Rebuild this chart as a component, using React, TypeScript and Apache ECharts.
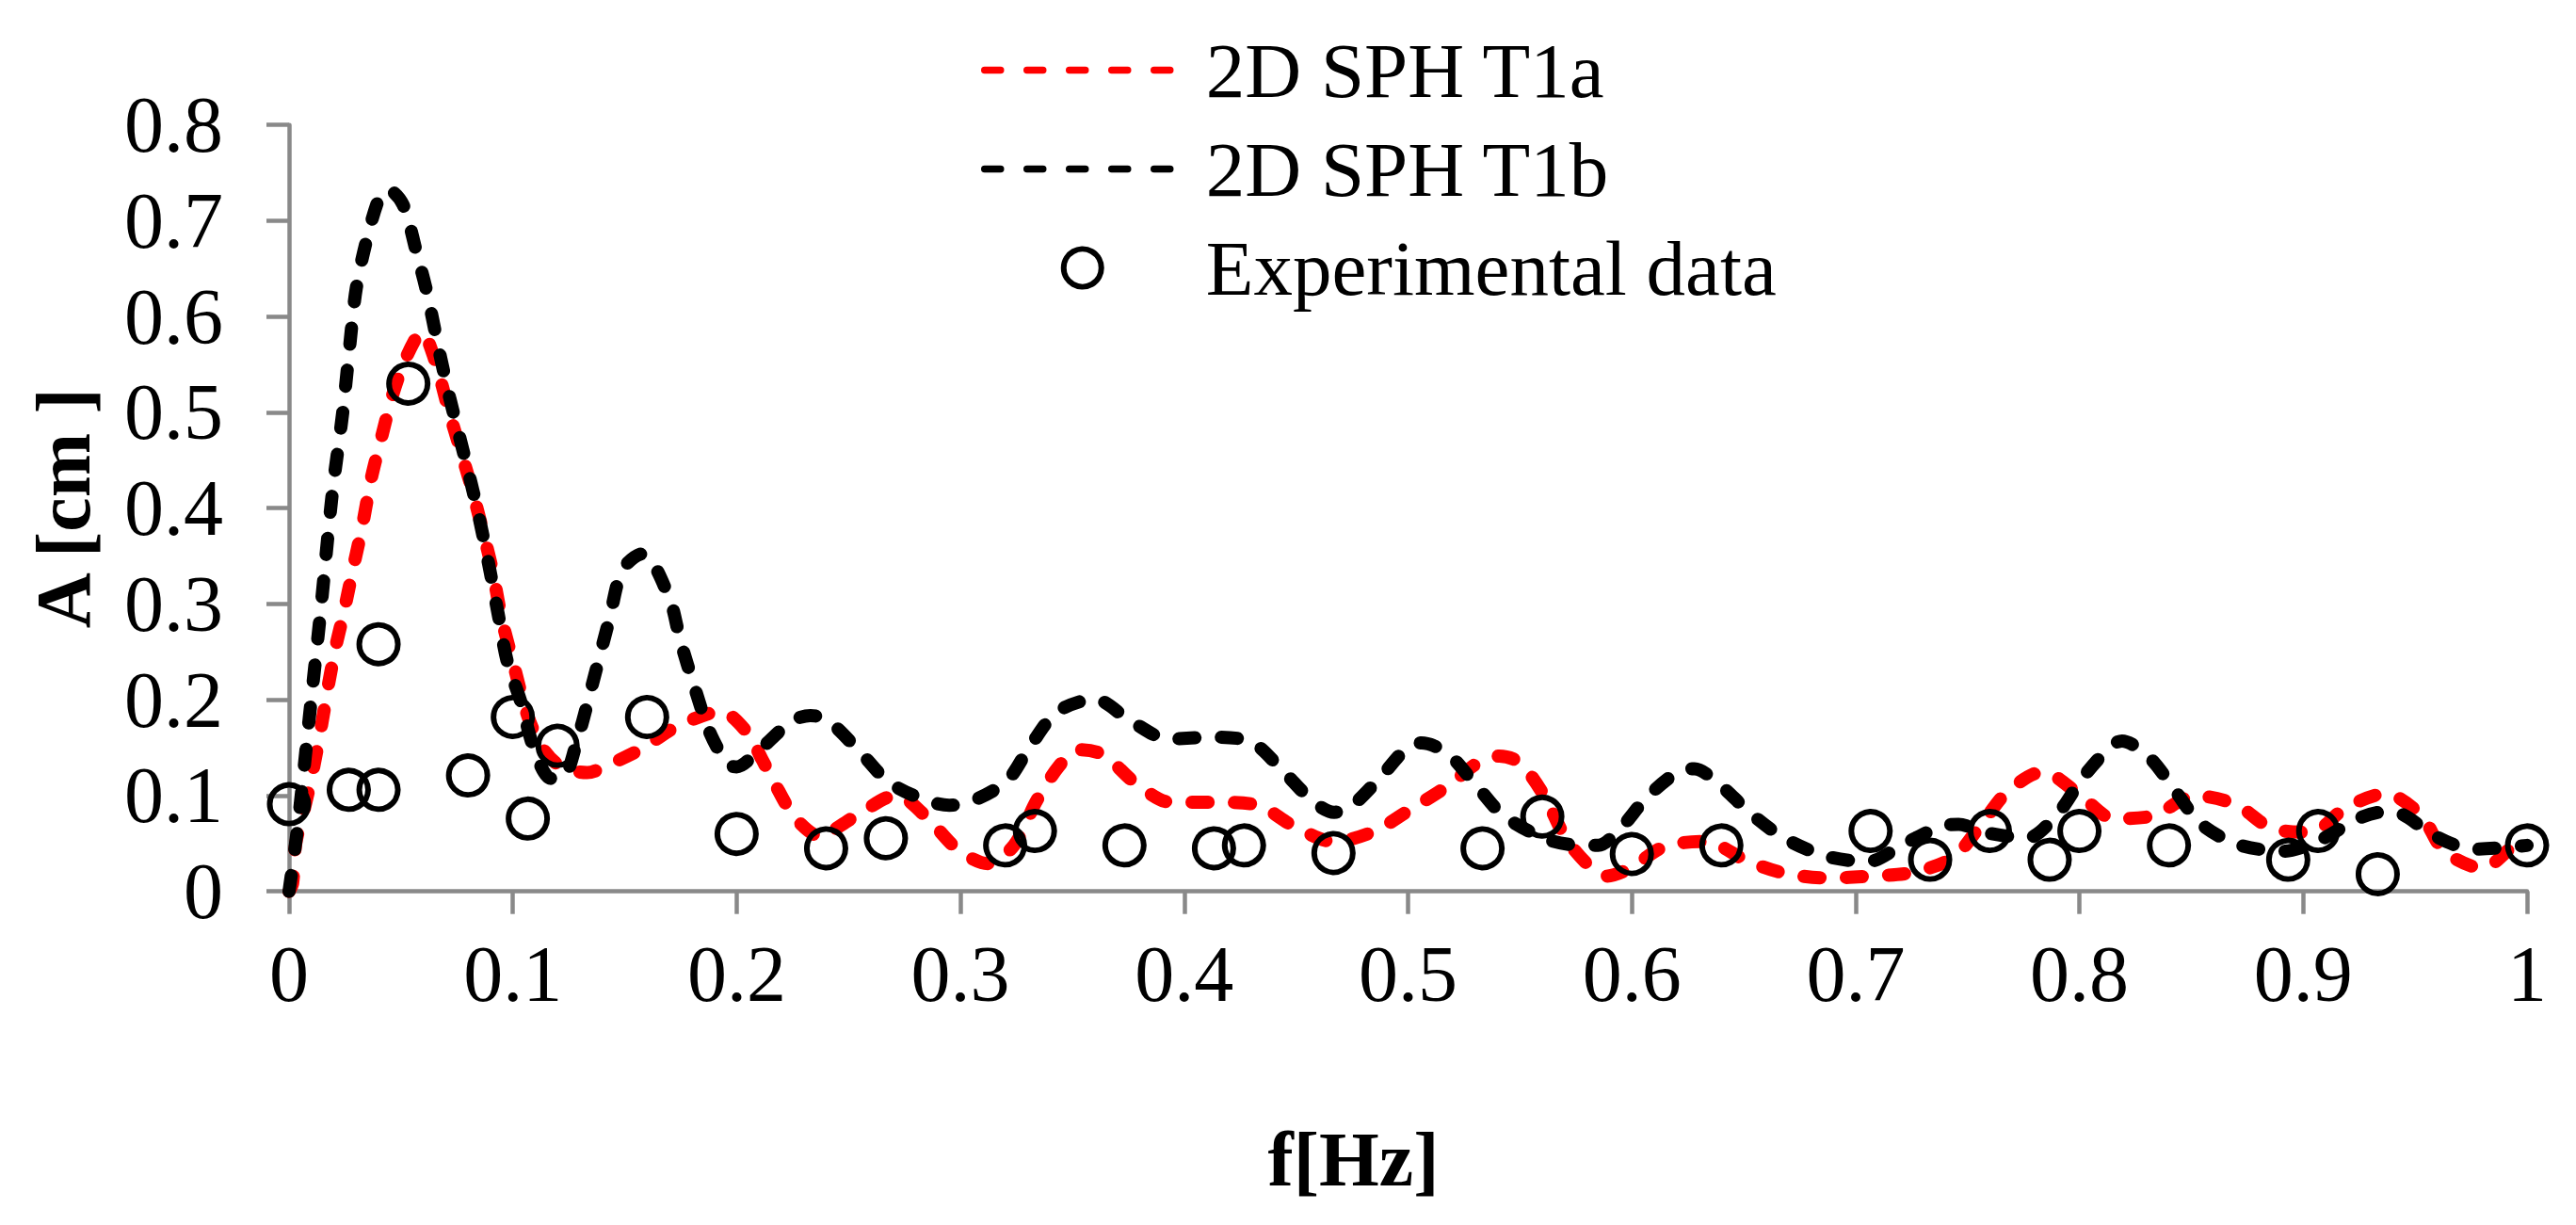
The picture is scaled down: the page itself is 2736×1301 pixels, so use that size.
import React, { useEffect, useRef } from "react";
import * as echarts from "echarts";

const FONT = '"Liberation Serif", "DejaVu Serif", "Times New Roman", serif';

const seriesNames = ["2D SPH T1a", "2D SPH T1b", "Experimental data"];

// 2D SPH T1a (red dashed)
const t1a: [number, number][] = [
  [0, 0], [0.0016, 0.0085], [0.003, 0.05], [0.0069, 0.087], [0.0103, 0.1216],
  [0.0144, 0.172], [0.0177, 0.217], [0.021, 0.2567], [0.0244, 0.2906], [0.0285, 0.3358],
  [0.0327, 0.381], [0.0368, 0.4316], [0.041, 0.471], [0.046, 0.516], [0.051, 0.55],
  [0.0568, 0.578], [0.0593, 0.584], [0.065, 0.5557], [0.0717, 0.499], [0.0767, 0.46],
  [0.0817, 0.42], [0.0867, 0.375], [0.0908, 0.3358], [0.095, 0.285], [0.1, 0.24],
  [0.1066, 0.1835], [0.1133, 0.1495], [0.1216, 0.13], [0.1332, 0.124], [0.1432, 0.1326],
  [0.158, 0.1495], [0.173, 0.172], [0.188, 0.186], [0.193, 0.188], [0.2047, 0.166],
  [0.2113, 0.138], [0.2163, 0.1157], [0.2263, 0.0764], [0.238, 0.0567], [0.2407, 0.06],
  [0.2548, 0.081], [0.2714, 0.1004], [0.2848, 0.0776], [0.2989, 0.0435], [0.3122, 0.029],
  [0.3239, 0.048], [0.3339, 0.094], [0.3438, 0.13], [0.3525, 0.148], [0.3638, 0.1427],
  [0.378, 0.1134], [0.394, 0.093], [0.4134, 0.093], [0.4318, 0.0907], [0.449, 0.068],
  [0.4669, 0.0518], [0.4851, 0.063], [0.5, 0.084], [0.5174, 0.1096], [0.5323, 0.136],
  [0.5407, 0.1412], [0.5498, 0.1345], [0.5607, 0.1004], [0.5706, 0.055], [0.5814, 0.0256],
  [0.5888, 0.016], [0.599, 0.024], [0.6148, 0.047], [0.633, 0.052], [0.6513, 0.032],
  [0.668, 0.019], [0.6871, 0.014], [0.707, 0.016], [0.7254, 0.0198], [0.7437, 0.0354],
  [0.757, 0.0728], [0.7678, 0.1039], [0.7836, 0.1248], [0.8003, 0.1004], [0.8153, 0.076],
  [0.833, 0.079], [0.8514, 0.1], [0.8699, 0.0907], [0.8857, 0.066], [0.9034, 0.0617],
  [0.9192, 0.0875], [0.9367, 0.102], [0.9526, 0.0795], [0.963, 0.042], [0.98, 0.0243],
  [0.9966, 0.052], [1.0, 0.053],
];

// 2D SPH T1b (black dashed)
const t1b: [number, number][] = [
  [0, 0], [0.004, 0.07], [0.009, 0.18], [0.014, 0.29], [0.0193, 0.415],
  [0.024, 0.5], [0.027, 0.567], [0.03, 0.629], [0.035, 0.683], [0.041, 0.728],
  [0.0445, 0.732], [0.051, 0.7165], [0.0568, 0.6685], [0.0618, 0.6234], [0.0668, 0.567],
  [0.0717, 0.516], [0.0784, 0.454], [0.0842, 0.398], [0.089, 0.344], [0.0934, 0.29],
  [0.0975, 0.24], [0.1033, 0.2], [0.11, 0.145], [0.117, 0.118], [0.122, 0.118],
  [0.129, 0.16], [0.135, 0.2115], [0.1432, 0.285], [0.149, 0.336], [0.158, 0.3525],
  [0.1698, 0.307], [0.1748, 0.262], [0.1814, 0.2115], [0.188, 0.166], [0.196, 0.1326],
  [0.2, 0.13], [0.2097, 0.1466], [0.2246, 0.1776], [0.233, 0.1835], [0.2407, 0.1786],
  [0.255, 0.146], [0.268, 0.114], [0.284, 0.0955], [0.295, 0.09], [0.304, 0.093],
  [0.3206, 0.115], [0.331, 0.151], [0.343, 0.187], [0.36, 0.2006], [0.376, 0.178],
  [0.393, 0.159], [0.412, 0.161], [0.43, 0.156], [0.444, 0.126], [0.4575, 0.094],
  [0.467, 0.0826], [0.474, 0.0875], [0.488, 0.12], [0.5, 0.151], [0.506, 0.155],
  [0.5177, 0.144], [0.53, 0.112], [0.5427, 0.079], [0.5626, 0.054], [0.578, 0.048],
  [0.585, 0.048], [0.5945, 0.0646], [0.6075, 0.1], [0.623, 0.127], [0.628, 0.128],
  [0.639, 0.112], [0.653, 0.0816], [0.668, 0.0557], [0.6865, 0.037], [0.7054, 0.031],
  [0.722, 0.05], [0.74, 0.069], [0.746, 0.07], [0.7576, 0.0616], [0.7766, 0.0557],
  [0.7908, 0.0826], [0.8014, 0.1186], [0.8144, 0.1524], [0.819, 0.157], [0.8314, 0.1394],
  [0.8428, 0.105], [0.854, 0.071], [0.8707, 0.049], [0.891, 0.042], [0.907, 0.053],
  [0.9246, 0.076], [0.936, 0.083], [0.943, 0.0816], [0.9586, 0.058], [0.976, 0.044],
  [1.0, 0.048],
];

// Experimental data (hollow circles)
const experimental: [number, number][] = [
  [0, 0.091], [0.0267, 0.106], [0.04, 0.106], [0.04, 0.258], [0.0533, 0.53],
  [0.08, 0.121], [0.1, 0.182], [0.1067, 0.076], [0.12, 0.152], [0.16, 0.182],
  [0.2, 0.06], [0.24, 0.045], [0.2667, 0.0555], [0.32, 0.048], [0.3333, 0.063],
  [0.3733, 0.048], [0.4133, 0.045], [0.4267, 0.048], [0.4667, 0.04], [0.5333, 0.045],
  [0.56, 0.078], [0.6, 0.039], [0.64, 0.048], [0.7067, 0.063], [0.7333, 0.033],
  [0.76, 0.063], [0.7867, 0.033], [0.8, 0.063], [0.84, 0.048], [0.8933, 0.033],
  [0.9067, 0.063], [0.9333, 0.018], [1.0, 0.048],
];

const xAxisRange = { min: 0, max: 1, interval: 0.1 };
const yAxisRange = { min: 0, max: 0.8, interval: 0.1 };
const xAxisTitle = "f[Hz]";
const yAxisTitle = "A [cm ]";

const AXIS_GREY = "#898989";
const RED = "#ff0000";
const BLACK = "#000000";

export default function App() {
  const ref = useRef<HTMLDivElement>(null);

  useEffect(() => {
    document.body.style.margin = "0";
    const chart = echarts.init(ref.current as HTMLDivElement, null, { renderer: "svg" });
    const fmt = (v: number) => String(Math.round(v * 10) / 10);
    const makeLine = (color: string, width: number) => ({
      color,
      width,
      type: [17, 28] as number[],
      cap: "round" as const,
    });
    const hidden = { color: "rgba(0,0,0,0)", borderWidth: 0, opacity: 0 };
    const circleStyle = {
      color: "rgba(0,0,0,0)",
      borderColor: BLACK,
      borderWidth: 6,
      opacity: 1,
    };
    chart.setOption({
      animation: false,
      backgroundColor: "#ffffff",
      grid: { left: 307, right: 52, top: 132.7, bottom: 354.3, containLabel: false },
      legend: {
        orient: "vertical",
        left: 1037,
        top: 28,
        itemWidth: 208,
        itemHeight: 40,
        itemGap: 22,
        textStyle: { fontSize: 83, fontFamily: FONT, color: "#000", padding: [0, 0, 0, 22] },
        data: [
          { name: seriesNames[0], itemStyle: hidden, lineStyle: makeLine(RED, 7.5) },
          { name: seriesNames[1], itemStyle: hidden, lineStyle: makeLine(BLACK, 7.5) },
          { name: seriesNames[2], icon: "circle", itemStyle: circleStyle },
        ],
      },
      xAxis: {
        type: "value",
        ...xAxisRange,
        name: xAxisTitle,
        nameLocation: "middle",
        nameGap: 244,
        nameTextStyle: {
          fontSize: 82,
          fontWeight: "bold",
          fontFamily: FONT,
          color: "#000",
          padding: [0, 116, 0, 0],
        },
        axisLine: { show: true, lineStyle: { color: AXIS_GREY, width: 4.5 } },
        axisTick: { show: true, length: 24, lineStyle: { color: AXIS_GREY, width: 4.5 } },
        axisLabel: { fontSize: 84, fontFamily: FONT, color: "#000", margin: 46, formatter: fmt },
        splitLine: { show: false },
      },
      yAxis: {
        type: "value",
        ...yAxisRange,
        name: yAxisTitle,
        nameLocation: "middle",
        nameRotate: 90,
        nameGap: 199,
        nameTextStyle: { fontSize: 82, fontWeight: "bold", fontFamily: FONT, color: "#000" },
        axisLine: { show: true, lineStyle: { color: AXIS_GREY, width: 4.5 } },
        axisTick: { show: true, length: 24, lineStyle: { color: AXIS_GREY, width: 4.5 } },
        axisLabel: { fontSize: 84, fontFamily: FONT, color: "#000", margin: 70, formatter: fmt },
        splitLine: { show: false },
      },
      series: [
        {
          name: seriesNames[0],
          type: "line",
          data: t1a,
          symbol: "none",
          smooth: 0.3,
          z: 2,
          lineStyle: makeLine(RED, 14),
        },
        {
          name: seriesNames[1],
          type: "line",
          data: t1b,
          symbol: "none",
          smooth: 0.3,
          z: 3,
          lineStyle: makeLine(BLACK, 14),
        },
        {
          name: seriesNames[2],
          type: "scatter",
          data: experimental,
          symbol: "circle",
          symbolSize: 41,
          clip: false,
          z: 4,
          itemStyle: circleStyle,
        },
      ],
    });
    return () => chart.dispose();
  }, []);

  return (
    <div
      ref={ref}
      style={{ position: "fixed", left: 0, top: 0, width: 2736, height: 1301, background: "#fff" }}
    />
  );
}
